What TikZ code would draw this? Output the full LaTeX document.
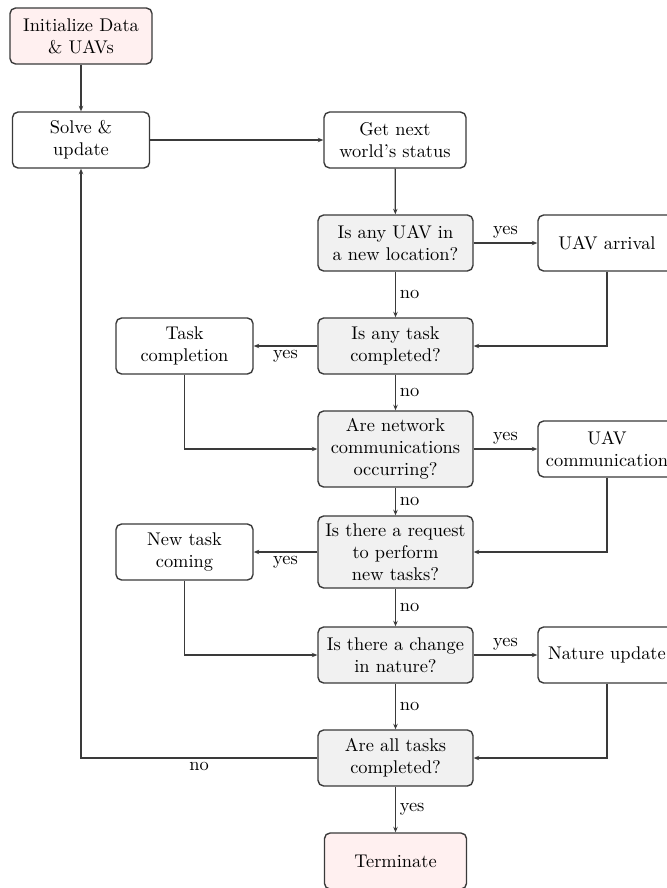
\documentclass[tikz,border=0pt]{standalone}
\usetikzlibrary{arrows.meta}
\definecolor{pinkfill}{HTML}{FFF0F0}
\definecolor{grayfill}{HTML}{F1F1F1}
\definecolor{linecol}{HTML}{3A3A3A}
\begin{document}
\begin{tikzpicture}[x=0.5435pt,y=-0.5435pt,
  box/.style={draw=linecol,line width=0.75pt,rounded corners=3pt,align=center,
    inner sep=2pt,minimum height=30.4pt,font=\fontsize{10}{12}\selectfont},
  proc/.style={box,fill=white},
  term/.style={box,fill=pinkfill,minimum width=77.2pt},
  quest/.style={box,fill=grayfill,minimum width=84.2pt},
  side/.style={proc,minimum width=75pt},
  leftbox/.style={proc,minimum width=74.5pt},
  conn/.style={draw=linecol,line width=0.7pt,-{Stealth[length=3pt,width=2.4pt]}},
  lbl/.style={font=\fontsize{10}{12}\selectfont,inner sep=2pt}
]
\clip (0,0) rectangle (667,888);
\fill[white] (0,0) rectangle (667,888);

\node[term] (init) at (81,36) {Initialize Data\\ \& UAVs};
\node[leftbox] (solve) at (81,140) {Solve \&\\ update};
\node[proc,minimum width=77.2pt] (get) at (395,140) {Get next\\ world's status};
\node[quest] (q1) at (395.5,243) {Is any UAV in\\ a new location?};
\node[side] (arr) at (607,243) {UAV arrival};
\node[quest] (q2) at (395.5,346) {Is any task\\ completed?};
\node[leftbox] (task) at (184.5,346) {Task\\ completion};
\node[quest,minimum height=41.3pt] (q3) at (395.5,449) {Are network\\ communications\\ occurring?};
\node[side] (comm) at (607,449) {UAV\\ communication};
\node[quest,minimum height=39.1pt] (q4) at (395.5,552) {Is there a request\\ to perform\\ new tasks?};
\node[leftbox] (newt) at (184.5,552) {New task\\ coming};
\node[quest] (q5) at (395.5,655) {Is there a change\\ in nature?};
\node[side] (nat) at (607,655) {Nature update};
\node[quest] (q6) at (395.5,758) {Are all tasks\\ completed?};
\node[term] (end) at (395.5,861) {Terminate};

\coordinate (corner) at (81,758);

\draw[conn] (init) -- (solve);
\draw[conn] (solve) -- (get);
\draw[conn] (get) -- (q1);
\draw[conn] (q1) -- node[lbl,above] {yes} (arr);
\draw[conn] (q1) -- node[lbl,right] {no} (q2);
\draw[conn] (arr.south) |- (q2.east);
\draw[conn] (q2) -- node[lbl,below] {yes} (task);
\draw[conn] (q2) -- node[lbl,right] {no} (q3);
\draw[conn] (task.south) |- (q3.west);
\draw[conn] (q3) -- node[lbl,above] {yes} (comm);
\draw[conn] (q3) -- node[lbl,right] {no} (q4);
\draw[conn] (comm.south) |- (q4.east);
\draw[conn] (q4) -- node[lbl,below] {yes} (newt);
\draw[conn] (q4) -- node[lbl,right] {no} (q5);
\draw[conn] (newt.south) |- (q5.west);
\draw[conn] (q5) -- node[lbl,above] {yes} (nat);
\draw[conn] (q5) -- node[lbl,right] {no} (q6);
\draw[conn] (nat.south) |- (q6.east);
\draw[conn] (q6.west) -- node[lbl,below] {no} (corner) -- (solve.south);
\draw[conn] (q6) -- node[lbl,right] {yes} (end);
\end{tikzpicture}
\end{document}
